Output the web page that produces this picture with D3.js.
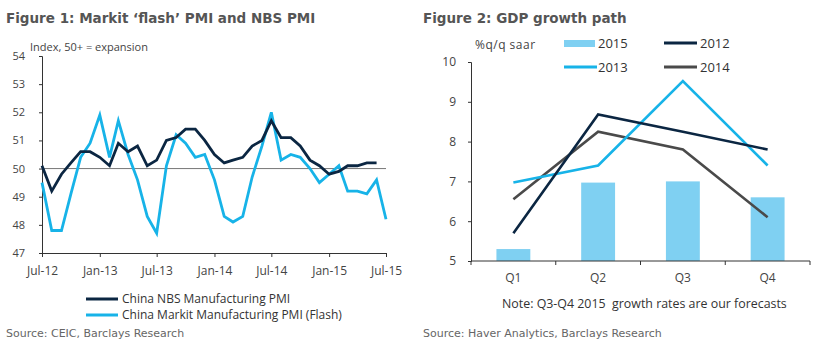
<!DOCTYPE html>
<html lang="en">
<head>
    <meta charset="UTF-8">
    <title>PMI and GDP growth path</title>
    <script src="https://d3js.org/d3.v7.min.js"></script>
    <style>
        body { margin: 0; background: #fff; }
        .tick text { font-family: "Open Sans", sans-serif; fill: #444; }
    </style>
</head>
<body>
    <div id="chart"></div>
    <script>
        // Figure 1 data, monthly from Jul-12
        const nbsPmi = [50.1, 49.2, 49.8, 50.2, 50.6, 50.6,
            50.4, 50.1, 50.9, 50.6, 50.8, 50.1, 50.3, 51.0, 51.1, 51.4, 51.4, 51.0,
            50.5, 50.2, 50.3, 50.4, 50.8, 51.0, 51.7, 51.1, 51.1, 50.8, 50.3, 50.1,
            49.8, 49.9, 50.1, 50.1, 50.2, 50.2];
        const markitPmi = [49.5, 47.8, 47.8, 49.1, 50.4, 50.9,
            51.9, 50.4, 51.7, 50.5, 49.6, 48.3, 47.7, 50.1, 51.2, 50.9, 50.4, 50.5,
            49.6, 48.3, 48.1, 48.3, 49.7, 50.8, 52.0, 50.3, 50.5, 50.4, 50.0, 49.5,
            49.8, 50.1, 49.2, 49.2, 49.1, 49.6, 48.2];
        const pmiTickLabels = ["Jul-12", "Jan-13", "Jul-13", "Jan-14", "Jul-14", "Jan-15", "Jul-15"];
        const pmiYTicks = [47, 48, 49, 50, 51, 52, 53, 54];

        // Figure 2 data
        const quarters = ["Q1", "Q2", "Q3", "Q4"];
        const gdp2015 = [5.3, 6.97, 7.0, 6.6];
        const gdp2012 = [5.7, 8.68, 8.25, 7.8];
        const gdp2013 = [6.97, 7.4, 9.52, 7.4];
        const gdp2014 = [6.55, 8.25, 7.8, 6.1];
        const gdpYTicks = [5, 6, 7, 8, 9, 10];

        const navy = "#0b2642";
        const cyan = "#17b3e8";
        const grey = "#4a4a4a";
        const barBlue = "#7fd0f2";

        const svg = d3.select("#chart").append("svg")
            .attr("width", 818)
            .attr("height", 350);

        // ---------- Figure 1 ----------
        svg.append("text")
            .attr("x", 6).attr("y", 23)
            .attr("font-family", "DejaVu Sans").attr("font-weight", "bold")
            .attr("font-size", 13.5).attr("fill", "#555")
            .text("Figure 1: Markit \u2018flash\u2019 PMI and NBS PMI");

        const start = new Date(2012, 6, 1);
        const x1 = d3.scaleTime()
            .domain([start, new Date(2015, 6, 1)])
            .range([42, 386]);
        const y1 = d3.scaleLinear().domain([47, 54]).range([253, 56]);

        const monthDate = i => d3.timeMonth.offset(start, i);

        const xAxis1 = d3.axisBottom(x1)
            .tickValues(pmiTickLabels.map((_, i) => monthDate(i * 6)))
            .tickFormat((d, i) => pmiTickLabels[i])
            .tickSize(4).tickPadding(9);
        const gx1 = svg.append("g").attr("transform", "translate(0,253)").call(xAxis1);
        gx1.selectAll("text").attr("font-size", 12);

        const yAxis1 = d3.axisLeft(y1).tickValues(pmiYTicks)
            .tickFormat(d3.format("d")).tickSize(3).tickPadding(14);
        const gy1 = svg.append("g").attr("transform", "translate(42,0)").call(yAxis1);
        gy1.selectAll("text").attr("font-size", 11);

        [gx1, gy1].forEach(g => {
            g.select(".domain").attr("stroke", "#333");
            g.selectAll(".tick line").attr("stroke", "#333");
        });

        svg.append("line")
            .attr("x1", 42).attr("x2", 386)
            .attr("y1", y1(50)).attr("y2", y1(50))
            .attr("stroke", "#777").attr("stroke-width", 1);

        svg.append("text")
            .attr("x", 30).attr("y", 51)
            .attr("font-family", "Open Sans").attr("font-size", 11).attr("fill", "#444")
            .text("Index, 50+ = expansion");

        const pmiLine = d3.line()
            .x((d, i) => x1(monthDate(i)))
            .y(d => y1(d));

        svg.append("path").datum(markitPmi)
            .attr("d", pmiLine).attr("fill", "none")
            .attr("stroke", cyan).attr("stroke-width", 2.8);
        svg.append("path").datum(nbsPmi)
            .attr("d", pmiLine).attr("fill", "none")
            .attr("stroke", navy).attr("stroke-width", 2.8);

        const leg1 = [
            { name: "China NBS Manufacturing PMI", color: navy },
            { name: "China Markit Manufacturing PMI (Flash)", color: cyan }
        ];
        leg1.forEach((d, i) => {
            const yy = 299 + i * 16;
            svg.append("line").attr("x1", 86).attr("x2", 118)
                .attr("y1", yy).attr("y2", yy)
                .attr("stroke", d.color).attr("stroke-width", 3);
            svg.append("text").attr("x", 122).attr("y", yy + 4)
                .attr("font-family", "Open Sans").attr("font-size", 12).attr("fill", "#333")
                .text(d.name);
        });

        svg.append("text")
            .attr("x", 6).attr("y", 337)
            .attr("font-family", "DejaVu Sans").attr("font-size", 11).attr("fill", "#666")
            .text("Source: CEIC, Barclays Research");

        // ---------- Figure 2 ----------
        svg.append("text")
            .attr("x", 423).attr("y", 23)
            .attr("font-family", "DejaVu Sans").attr("font-weight", "bold")
            .attr("font-size", 13.5).attr("fill", "#555")
            .text("Figure 2: GDP growth path");

        const x2 = d3.scaleBand().domain(quarters).range([471, 810]);
        const xBar = d3.scaleBand().domain(quarters).range([471, 810])
            .paddingInner(0.6).paddingOuter(0.3);
        const y2 = d3.scaleLinear().domain([5, 10]).range([261, 62]);

        svg.selectAll("rect.bar")
            .data(gdp2015)
            .enter().append("rect")
            .attr("class", "bar")
            .attr("x", (d, i) => xBar(quarters[i]))
            .attr("width", xBar.bandwidth())
            .attr("y", d => y2(d))
            .attr("height", d => y2(5) - y2(d))
            .attr("fill", barBlue);

        const yAxis2 = d3.axisLeft(y2).tickValues(gdpYTicks)
            .tickFormat(d3.format("d")).tickSize(3).tickPadding(12);
        const gy2 = svg.append("g").attr("transform", "translate(471,0)").call(yAxis2);
        gy2.selectAll("text").attr("font-size", 12);
        gy2.select(".domain").attr("stroke", "#333");
        gy2.selectAll(".tick line").attr("stroke", "#333");

        // x axis: ticks at band boundaries, labels at band centres
        const bounds = quarters.map(q => x2(q)).concat([x2.range()[1]]);
        svg.append("line")
            .attr("x1", 471).attr("x2", 810)
            .attr("y1", y2(5)).attr("y2", y2(5))
            .attr("stroke", "#333");
        svg.selectAll("line.qtick")
            .data(bounds)
            .enter().append("line")
            .attr("class", "qtick")
            .attr("x1", d => d).attr("x2", d => d)
            .attr("y1", y2(5)).attr("y2", y2(5) + 4)
            .attr("stroke", "#333");
        svg.selectAll("text.qlab")
            .data(quarters)
            .enter().append("text")
            .attr("class", "qlab")
            .attr("x", d => x2(d) + x2.bandwidth() / 2)
            .attr("y", 282)
            .attr("text-anchor", "middle")
            .attr("font-family", "Open Sans").attr("font-size", 12).attr("fill", "#444")
            .text(d => d);

        const gdpLine = d3.line()
            .x((d, i) => x2(quarters[i]) + x2.bandwidth() / 2)
            .y(d => y2(d));

        const gdpSeries = [
            { name: "2014", values: gdp2014, color: grey },
            { name: "2013", values: gdp2013, color: cyan },
            { name: "2012", values: gdp2012, color: navy }
        ];
        gdpSeries.forEach(s => {
            svg.append("path").datum(s.values)
                .attr("d", gdpLine).attr("fill", "none")
                .attr("stroke", s.color).attr("stroke-width", 2.6);
        });

        svg.append("text")
            .attr("x", 475).attr("y", 49)
            .attr("font-family", "Open Sans").attr("font-size", 12).attr("fill", "#444")
            .attr("letter-spacing", 0.5)
            .text("%q/q saar");

        // legend
        svg.append("rect").attr("x", 564).attr("y", 40).attr("width", 31).attr("height", 7)
            .attr("fill", barBlue);
        const legText = (x, y, t) => svg.append("text").attr("x", x).attr("y", y)
            .attr("font-family", "Open Sans").attr("font-size", 13).attr("fill", "#333").text(t);
        legText(598, 48, "2015");
        const legLine = (x, y, c) => svg.append("line").attr("x1", x).attr("x2", x + 33)
            .attr("y1", y).attr("y2", y).attr("stroke", c).attr("stroke-width", 3);
        legLine(664, 43, navy); legText(700, 48, "2012");
        legLine(564, 67, cyan); legText(598, 72, "2013");
        legLine(664, 67, grey); legText(700, 72, "2014");

        svg.append("text")
            .attr("x", 502).attr("y", 308)
            .attr("font-family", "Open Sans").attr("font-size", 12.4).attr("fill", "#333")
            .attr("xml:space", "preserve")
            .text("Note: Q3-Q4 2015  growth rates are our forecasts");

        svg.append("text")
            .attr("x", 423).attr("y", 337)
            .attr("font-family", "DejaVu Sans").attr("font-size", 11).attr("fill", "#666")
            .text("Source: Haver Analytics, Barclays Research");
    </script>
</body>
</html>
